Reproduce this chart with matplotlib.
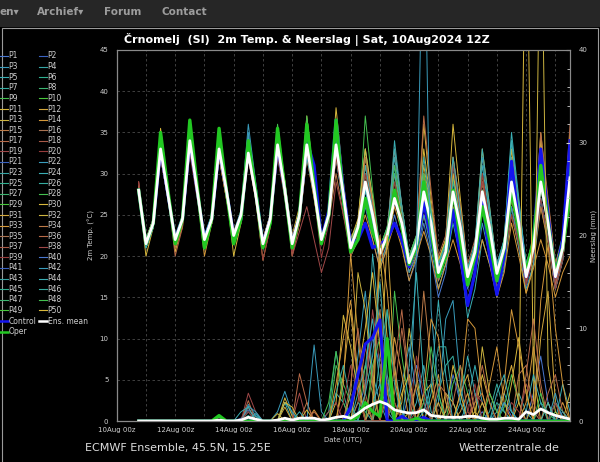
import numpy as np
import pandas as pd
import matplotlib
matplotlib.use('Agg')
import matplotlib.pyplot as plt
from matplotlib.lines import Line2D
from matplotlib.patches import Rectangle

# 6-hourly steps, first value = 10Aug 18Z, last = 25Aug 12Z
times = pd.date_range('2024-08-10 18:00', periods=60, freq='6h')

# ---- 2m temperature (degC) ----
mean_t = [28, 21.5,24,33,27.5, 22,24.5,34,28, 22,24.5,33,28, 22.5,25,32.5,27.5, 21.5,24.5,33.5,28,
          21.5,25,33.5,28, 22,25,33.5,27.5, 21,23.5,29,25, 20.3,22.5,27,24, 19.2,21.5,27.8,24,
          18,20.5,27.8,23.5, 17.5,20.5,27.8,23.5, 17.9,21,29,24, 17.5,21,29,24, 17.5,21,29.5]
control_t = [28, 21.5,24,33,27.5, 22,24.5,34,28, 22,24.5,33,28, 22.5,24.5,33.5,28, 21.5,24.5,33.5,28,
             21.5,25,34,31, 22,25.5,36.5,28, 21.5,22,24,21, 21.5,22,24,22, 18.7,21,26.5,22,
             18.3,20,25.6,20, 14,18,26.8,20, 15.3,20,31.5,24, 17.5,22,33,25, 17.5,22,34]
oper_t = [28, 21.5,24,35,28, 21.5,24.5,36.5,28.5, 21,24.5,35.5,28, 21.5,24.5,34,28, 21,24,35.5,28,
          21,25,36,28.5, 21.5,25,36.5,27, 20.5,22,27,23, 20.5,22,28,23.5, 19,21,29,23,
          17.5,20,28,22, 16.5,20,26,22, 17,21,28,23, 18,22,31,24, 18,21,27]

p01_t = [27.5, 21,23.5,32,27, 22,24,33.5,27.5, 21.5,24,32.5,27.5, 22,24.5,33,27, 21,24,33,27.5, 21.5,24.5,34,28,
         22.5,25,32,26, 20,22,26,22, 18.5,21,25,21.5, 17,19.5,24,20, 15,18,25,21, 16,19,27,22, 17,20,28,23,
         16.5,20,27,22, 16,19.5,28]
p03_t = [28, 21.5,24,33.5,28, 22,25,35,28.5, 22.5,25,34,28.5, 23,25.5,36,29, 22,25,34,28, 22,25,33,27.5,
         21.5,24.5,34,27, 21,23,30,25, 20.5,23,31,25, 20,22,28,24, 19,21,30,24.5, 18,21,32,25, 19,22,32,25,
         18,21,30,24, 17,20.5,28.5]
p05_t = [28, 22,24.5,33,27.5, 21.5,24,34.5,28, 22,24.5,33,27.5, 22.5,25,34.5,28, 21.5,24,32,27.5, 21,24.5,35,28.5,
         22,25,32,26, 21.5,23,28,24, 20,22,34,26, 19.5,22,26,23, 17,19,24,20, 12.5,16,22,19, 16,19,26,22,
         17,21,29,24, 18.5,22,31]
p07_t = [28.5, 21.5,24,33,27.5, 22.5,25,34,28, 22,24.5,32,27.5, 22,24.5,32,27.5, 22,24.5,33,28, 22,25,33,28,
         22,24.5,33,27, 22,24,31,26, 21,23,27,24, 19.5,22,27,23, 18,20.5,29,24, 18.5,21,28,23, 18,21,34,26,
         19,22,31,25, 19,22.5,33]
p09_t = [28, 21,23.5,34,28, 21.5,24.5,35.5,28.5, 21.5,24.5,34.5,28, 22,24.5,33,27.5, 21,24.5,34.5,28.5, 21.5,25,34,28,
         22,25,34.5,28, 20,22.5,37,28, 21,23.5,29,25, 20,22,30,25, 18.5,21,28,23.5, 17.5,20.5,27,23, 18,21,30,24.5,
         17,20.5,32,25, 17,21,31]
p11_t = [28, 20,23.5,35,28.5, 20.5,24,35,28.5, 21.5,24,33,28, 20,24,33,28, 22,25,34,29, 22.5,26,37,29,
         22,25.5,38,29, 22,24,32,27, 20,23,28,24, 19,21,33,26, 19,22,36,27, 18.5,21,29,24, 17,20,27,23,
         17,21,35,26, 18,22,35]
p12_t = [28, 22,24.5,32,27, 21.5,24,33,27.5, 22,24.5,33.5,28, 23,25,32.5,27.5, 22,25,34,28, 20,24,32,27,
         21.5,25,33,27.5, 21,23,30,25, 20,22,28,24, 19,21.5,30,25, 18,21,26,22, 17,20,28,23, 16,19,25,21,
         15.5,19,26,21.5, 16,19.5,27]
p13_t = [28, 21.5,24,34,28, 22,25,34,28.5, 22,25,34,28, 22,25,34,28, 21.5,25,35,29, 22,25,34,28,
         22,25,33,27, 21.5,24,33,26, 21,23,30,25, 20,22.5,31,25.5, 19.5,22,32,26, 18.5,21,29,24, 18,21,33,25.5,
         18,21.5,31,25, 18.5,22,32]
p14_t = [28, 21,23.5,32.5,27, 22,24,33,27.5, 20,24,32,27, 22,24.5,32,27, 19.5,23.5,33,28, 21,24.5,33,28,
         22,25,34,28, 21,23,29,25, 19,21.5,26,23, 18,20.5,25,22, 17.5,20,27,23, 17,20,30,24, 18.5,21,27,23,
         17,20.5,30,24, 17.5,21,29]
p15_t = [29, 22,24,32,27, 21,23.5,33,27.5, 21.5,24,32,27, 22,24,32,27, 21.5,24,32.5,27, 20.5,24,32,27,
         21.5,24,30,25, 21,23,27,24, 20.5,22.5,28,24, 19,21,25,22, 17,20,27,22.5, 17.5,20,26,22, 18,20.5,27,23,
         17,20,26,22, 16.5,20,27.5]
p17_t = [28.5, 22,24.5,33,27.5, 22.5,24.5,34,28, 21.5,24,33,27.5, 22,24.5,32,27, 21,24,34,28, 21.5,25,35,28.5,
         22,25,34,28, 20.5,23,31,26, 20,22.5,28,24.5, 19,22,30,25, 18,21,28,24, 18,21,26,22, 17,20,28,23.5,
         17,20,29,24, 16.5,20,30]
p19_t = [29, 22,24,32,27, 22,24,32.5,27, 22,24.5,33,28, 22.5,25,33.5,28, 22,24.5,33,27.5, 20,23,26,22,
         18,21,29,25, 20,22.5,28,24, 20,22,27,23.5, 19,21,27,23, 18,20.5,27,23, 17,20,29,24, 17,20,26,22,
         17,20,29,24, 17,21,32]
p22_t = [28, 21.5,24,33,27.5, 22,24.5,33.5,28, 22,24.5,33,28, 22.5,25,35,28.5, 21.5,24,33,27.5, 22,25,34,28,
         21.5,24,33,27, 20.5,22,28,24, 19,21.5,27,23, 18,20,25,21, 16,19,25,21, 14,17.5,24,20, 15,18.5,26,21,
         16,19,27,22, 16,19.5,28]
p24_t = [28, 22,24.5,33,27.5, 22,24.5,34,28, 22.5,25,33,28, 22,25,33.5,28, 21,24,33,28, 22,24.5,32,27.5,
         21.5,24.5,33,27, 21,23.5,31,26, 20,22.5,32,26, 20,22.5,29,24.5, 18,21,31,25, 18,21.5,31,25, 19,22,35,27,
         18.5,22,30,25, 18,22,30]
p26_t = [27.5, 21,23.5,33.5,28, 22,24.5,34.5,28.5, 22,24.5,33.5,28, 22,24.5,33,28, 22,24.5,33.5,28, 21.5,24.5,33,28,
         22,25,35,28, 22,24,33,27, 21,23.5,30,25.5, 19.5,22,29,25, 19,21.5,29.5,24.5, 18,21,28,24, 18,21,29,24,
         17.5,21,30,25, 17.5,21,31]
p28_t = [28, 21.5,24,34.5,28.5, 21.5,24.5,36,28.5, 22,25,35,28.5, 22,25,34,28, 21.5,25,36,29, 21.5,25,37,29,
         22.5,25,36,28.5, 21.5,24,32,27, 21,23.5,31,26, 20,22.5,30,25, 19,22,30,25, 18.5,21.5,28,24, 18,21,29,24,
         18,21,28,24, 17.5,21,28]
p30_t = [28, 21.5,24,35.5,28.5, 21.5,24,34,28, 22,24.5,33.5,28, 22,25,33,28, 22,25,35,29, 21,24,34,28,
         22,25,35,28, 22,24.5,33,27, 20,22,27,24, 19,22,36,27, 19.5,22,30,25, 18,21,33,26, 18.5,21,31,25,
         18,22,34,26.5, 19,22,35]
p33_t = [28, 22,24.5,33,27.5, 22,24.5,33,28, 21.5,24,32,27, 22,24.5,33,27.5, 21.5,24,33.5,28, 22,25,33,28,
         21.5,24.5,32,26.5, 20,22,25,22, 18.5,21,24,21, 17,20,23,20, 16,19,22,19, 14.5,18,22,19, 15,18,24,20,
         15.5,18.5,22,19, 15,18,20]
p36_t = [28.5, 21.5,24,32.5,27.5, 20,23.5,33,27.5, 22,24.5,32.5,27.5, 22,24.5,32.5,27.5, 21.5,24.5,34,28.5, 22,25,35,28.5,
         22,25,33,27.5, 21,23.5,32,26.5, 20.5,23,33,26, 19,22,37,28, 20,22.5,32,26, 19,22,27,23, 18,21,29,24,
         19,22,35,27, 19,22,36]
p39_t = [29, 21.5,24,32,27, 22,24.5,33,27.5, 21.5,24,32.5,27.5, 22,24.5,32,27, 19.5,23.5,32,27, 20.5,24,33,27.5,
         19.8,24,32,26.5, 20,22.5,30,25, 19.5,22,29,24.5, 19,21.5,28,24, 18,21,31,25, 17,20,30,24, 17,20,25,21.5,
         16.5,20,27,22, 16,19.5,28]
p44_t = [28, 21,23.5,33,27.5, 22,24.5,34,28, 22,24.5,34.5,28, 22.5,25,34,28, 22,24.5,34,28, 22,25,34,28,
         22,25,34,27.5, 21,23,28,24.5, 20,22.5,33,26, 19.5,22,32,25.5, 19,21.5,32,25.5, 18.5,21.5,33,26, 18.5,22,34,26.5,
         19,22,32,25.5, 18.5,22,33]

# ---- 6h precipitation (mm); members given as {step: value}, other steps are 0 ----
mean_r = [0,0,0,0,0,0,0,0,0,0,0, 0.1,0,0,0.1,0.4,0.2,0,0,0.1,0.3,
          0.1,0.3,0.3,0.3,0.1,0.2,0.4,0.5,0.3,0.8, 1.4,1.8,2.1,1.8,1.2,1.0,0.85,0.9,1.2,0.6,
          0.5,0.4,0.4,0.4,0.5,0.5,0.3,0.2,0.2,0.3, 0.3,0.2,1.0,0.7,1.3,0.9,0.6,0.4,0.2]
control_r = {29: 1.5, 30: 5, 31: 8.3, 32: 9, 33: 10.9, 36: 0.5, 39: 0.4}
oper_r = {11: 0.6, 30: 0.5, 31: 2, 32: 1, 33: 0.5, 34: 8.9, 38: 0.3}

p01_r = {14: 0.3, 15: 1.2, 16: 0.5, 23: 0.5, 30: 1, 31: 4, 32: 9, 33: 6, 34: 2, 37: 3, 38: 6, 39: 2,
         42: 1, 43: 5, 44: 2, 47: 1, 50: 2, 51: 0.5, 54: 3, 55: 7, 56: 2, 58: 1}
p03_r = {15: 1.8, 16: 0.6, 19: 1, 20: 3.2, 21: 0.8, 29: 1, 30: 7, 31: 14, 32: 5, 33: 2, 36: 4, 37: 8,
         38: 3, 41: 2, 42: 11, 43: 13, 44: 4, 49: 1, 50: 3, 51: 1, 57: 2, 58: 0.5}
p05_r = {15: 1, 20: 2, 27: 3, 28: 2, 31: 3, 32: 18, 33: 10, 34: 4, 38: 2, 39: 6, 40: 1, 45: 2, 46: 6,
         47: 2, 52: 3, 53: 1, 58: 4, 59: 1}
p07_r = {16: 0.5, 26: 1, 27: 7.5, 28: 3, 30: 2, 31: 1, 34: 12, 35: 6, 36: 1, 40: 3, 41: 8, 42: 8, 43: 2,
         48: 1, 49: 4, 50: 1, 55: 2, 56: 1}
p09_r = {11: 0.4, 27: 6, 28: 4, 29: 2, 31: 6, 32: 3, 35: 14, 36: 7, 37: 2, 43: 4, 44: 6, 45: 3, 50: 1.5,
         51: 5, 52: 2, 57: 1}
p11_r = {20: 2.5, 21: 0.5, 27: 2, 28: 11.4, 29: 8, 30: 3, 33: 18, 34: 9, 35: 2, 39: 3, 40: 4, 46: 1,
         47: 5, 48: 2, 52: 2, 53: 60, 54: 5, 59: 3}
p12_r = {20: 1.5, 28: 5, 29: 12, 30: 4, 33: 3, 34: 20, 35: 6, 37: 1, 38: 4, 41: 2, 44: 3, 45: 5, 46: 1,
         50: 3, 51: 6, 52: 2, 55: 9, 56: 14, 57: 2}
p13_r = {19: 0.8, 29: 3, 30: 16, 31: 12, 32: 4, 36: 2, 37: 10, 38: 5, 42: 3, 43: 2, 47: 8, 48: 3, 49: 1,
         54: 2, 55: 60, 56: 6, 57: 1}
p14_r = {24: 1.2, 28: 4, 29: 18, 30: 9, 31: 2, 34: 3, 35: 9, 36: 5, 40: 2, 41: 5, 44: 1, 45: 3, 48: 4,
         49: 8, 50: 2, 53: 2, 54: 8, 55: 3, 58: 2}
p15_r = {15: 1.5, 23: 2, 32: 5, 33: 12, 34: 3, 38: 4, 39: 14, 40: 6, 46: 2, 47: 3, 52: 5, 53: 6, 54: 1}
p17_r = {15: 2.2, 22: 5.1, 23: 2, 30: 2, 31: 8, 32: 4, 35: 3, 36: 10, 37: 4, 43: 2, 44: 6, 45: 1, 56: 3,
         57: 5, 58: 1}
p19_r = {15: 3.0, 16: 1, 22: 3, 26: 1, 27: 2, 31: 3, 32: 12, 33: 6, 38: 1, 39: 2, 46: 3, 47: 2, 53: 4, 54: 2}
p22_r = {15: 1.6, 16: 1, 24: 8.2, 25: 1, 32: 2, 33: 4, 34: 1, 38: 18, 39: 60, 40: 12, 41: 3, 50: 2, 51: 1, 57: 3}
p24_r = {14: 1, 15: 1.5, 20: 2, 21: 1, 30: 3, 31: 6, 32: 11, 33: 4, 37: 6, 38: 16, 39: 4, 44: 2, 45: 7,
         46: 3, 53: 1, 54: 5, 55: 2}
p26_r = {15: 0.6, 27: 3, 28: 6, 29: 2, 33: 7, 34: 12, 35: 4, 41: 3, 42: 6, 43: 7, 44: 2, 49: 2, 50: 1,
         57: 2, 58: 1}
p28_r = {11: 0.5, 26: 2, 27: 7.5, 28: 2, 32: 6, 33: 9, 34: 2, 39: 2, 40: 8, 41: 3, 48: 3, 49: 1, 55: 3}
p30_r = {20: 2, 21: 1.5, 23: 1.2, 30: 5, 31: 10, 32: 16, 33: 8, 36: 3, 37: 5, 42: 1, 43: 6, 44: 3, 47: 2,
         51: 4, 52: 9, 53: 3, 56: 2}
p33_r = {27: 4, 28: 9, 29: 13, 30: 5, 32: 2, 33: 20, 34: 14, 35: 5, 39: 3, 40: 11, 41: 9, 42: 2, 44: 3,
         45: 11, 46: 10, 47: 3, 50: 4, 51: 12, 52: 8, 53: 3, 55: 13, 56: 19, 57: 10, 58: 4}
p36_r = {24: 1, 29: 4, 30: 10, 31: 3, 35: 6, 36: 12, 37: 4, 41: 4, 42: 3, 46: 2, 47: 6, 48: 2, 53: 5,
         54: 11, 55: 4}
p39_r = {15: 1, 28: 2, 29: 6, 30: 3, 34: 4, 35: 2, 38: 7, 39: 3, 45: 1, 46: 4, 51: 2, 52: 1, 57: 2}
p44_r = {16: 0.8, 22: 1, 31: 3, 32: 7, 33: 15, 34: 5, 39: 1, 40: 4, 41: 13, 42: 5, 49: 3, 50: 5, 51: 1, 56: 2}

members = [
    (1, p01_t, p01_r), (3, p03_t, p03_r), (5, p05_t, p05_r), (7, p07_t, p07_r), (9, p09_t, p09_r),
    (11, p11_t, p11_r), (12, p12_t, p12_r), (13, p13_t, p13_r), (14, p14_t, p14_r), (15, p15_t, p15_r),
    (17, p17_t, p17_r), (19, p19_t, p19_r), (22, p22_t, p22_r), (24, p24_t, p24_r), (26, p26_t, p26_r),
    (28, p28_t, p28_r), (30, p30_t, p30_r), (33, p33_t, p33_r), (36, p36_t, p36_r), (39, p39_t, p39_r),
    (44, p44_t, p44_r),
]

palette = ['#4a78d0', '#3a62c0', '#3a9cbc', '#36a4a4', '#3aaeb4', '#30b090', '#36aca0', '#3cb470',
           '#44c050', '#48c83c', '#d8b83c', '#d4a83c', '#ccb440', '#d4983a', '#bc7a48', '#a87252',
           '#b86a48', '#a85a48', '#a04848', '#963c3c']


def member_color(n):
    return palette[int(round((n - 1) * 20 / 19.5)) % 20]


def expand(d):
    arr = np.zeros(len(times))
    for k, v in d.items():
        arr[k] = v
    return arr


W, H = 600, 462
fig = plt.figure(figsize=(W / 100, H / 100), dpi=100, facecolor='black')


def fx(x):
    return x / W


def fy(y):
    return 1 - y / H


# nav bar on top
fig.patches.append(Rectangle((0, fy(27)), 1, 27 / H, transform=fig.transFigure,
                             facecolor='#262626', edgecolor='none'))
fig.patches.append(Rectangle((fx(2), -0.1), fx(596), fy(28) + 0.1, transform=fig.transFigure,
                             facecolor='none', edgecolor='#9a9a9a', lw=0.8))
for txt, x in [('en\u25be', 0), ('Archief\u25be', 37), ('Forum', 104), ('Contact', 161)]:
    fig.text(fx(x), fy(12), txt, color='#9d9d9d', fontsize=7.5, fontweight='bold',
             va='center', ha='left')

ax = fig.add_axes([fx(116.7), fy(421), fx(570 - 116.7), (421 - 50) / H])
ax.set_facecolor('black')
ax2 = ax.twinx()

grey = '#cfcfcf'
for n, t_vals, r_vals in members:
    c = member_color(n)
    ax.plot(times, t_vals, color=c, lw=0.7)
    ax2.plot(times, expand(r_vals), color=c, lw=0.7)

ax.plot(times, control_t, color='#1414f0', lw=2.2)
ax.plot(times, oper_t, color='#22c822', lw=2.4)
ax.plot(times, mean_t, color='white', lw=2.0)
ax2.plot(times, expand(control_r), color='#1414f0', lw=2.2)
ax2.plot(times, expand(oper_r), color='#22c822', lw=2.2)
ax2.plot(times, mean_r, color='white', lw=2.0)

x0 = pd.Timestamp('2024-08-10 00:00')
x1 = pd.Timestamp('2024-08-25 12:00')
ax.set_xlim(x0, x1)
ax.set_ylim(0, 45)
ax2.set_ylim(0, 40)

days = pd.date_range('2024-08-10', '2024-08-25', freq='D')
ax.set_xticks(days)
ax.set_xticklabels([d.strftime('%dAug 00z') if i % 2 == 0 else '' for i, d in enumerate(days)])
ax.set_yticks(np.arange(0, 46, 5))
ax2.set_yticks(np.arange(0, 41, 10))
ax2.set_yticks(np.arange(0, 41, 2), minor=True)

ax.grid(True, color='#4a4a4a', linestyle=(0, (3, 3)), lw=0.6)
ax.tick_params(colors=grey, labelsize=5, length=0, pad=6)
ax2.tick_params(colors=grey, labelsize=5, length=3, direction='in', pad=6)
ax2.tick_params(which='minor', colors=grey, length=2, direction='in')
ax.tick_params(axis='x', pad=4)

for a in (ax, ax2):
    for s in a.spines.values():
        s.set_color('#8a8a8a')
        s.set_linewidth(0.8)
ax.spines['left'].set_color('#dddddd')
ax.spines['bottom'].set_color('#dddddd')

ax.set_ylabel('2m Temp. (\u00b0C)', color=grey, fontsize=5, labelpad=3)
ax2.set_ylabel('Neerslag (mm)', color=grey, fontsize=5, labelpad=2)
ax.set_xlabel('Date (UTC)', color=grey, fontsize=5, labelpad=3)

fig.text(fx(307), fy(39), '\u010crnomelj  (SI)  2m Temp. & Neerslag | Sat, 10Aug2024 12Z',
         color='white', fontsize=8, fontweight='bold', ha='center', va='center')
fig.text(fx(85), fy(448), 'ECMWF Ensemble, 45.5N, 15.25E', color='#dddddd', fontsize=8,
         ha='left', va='center')
fig.text(fx(459), fy(448), 'Wetterzentrale.de', color='#dddddd', fontsize=8, ha='left', va='center')

# legend, two columns down the left side
legend_items = [('P%d' % n, member_color(n), 0.8) for n in range(1, 51)]
legend_items += [('Control', '#1414f0', 1.8), ('Ens. mean', 'white', 1.8), ('Oper', '#22c822', 1.8)]
for k, (label, c, lw) in enumerate(legend_items):
    row, col = divmod(k, 2)
    y = 56 + 10.6 * row
    xl = 0 if col == 0 else 39
    fig.add_artist(Line2D([fx(xl), fx(xl + 8)], [fy(y), fy(y)], color=c, lw=lw,
                          transform=fig.transFigure))
    fig.text(fx(xl + 8.5), fy(y), label, color=grey, fontsize=5.5, ha='left', va='center')

fig.savefig('out.png', dpi=100, facecolor='black')
